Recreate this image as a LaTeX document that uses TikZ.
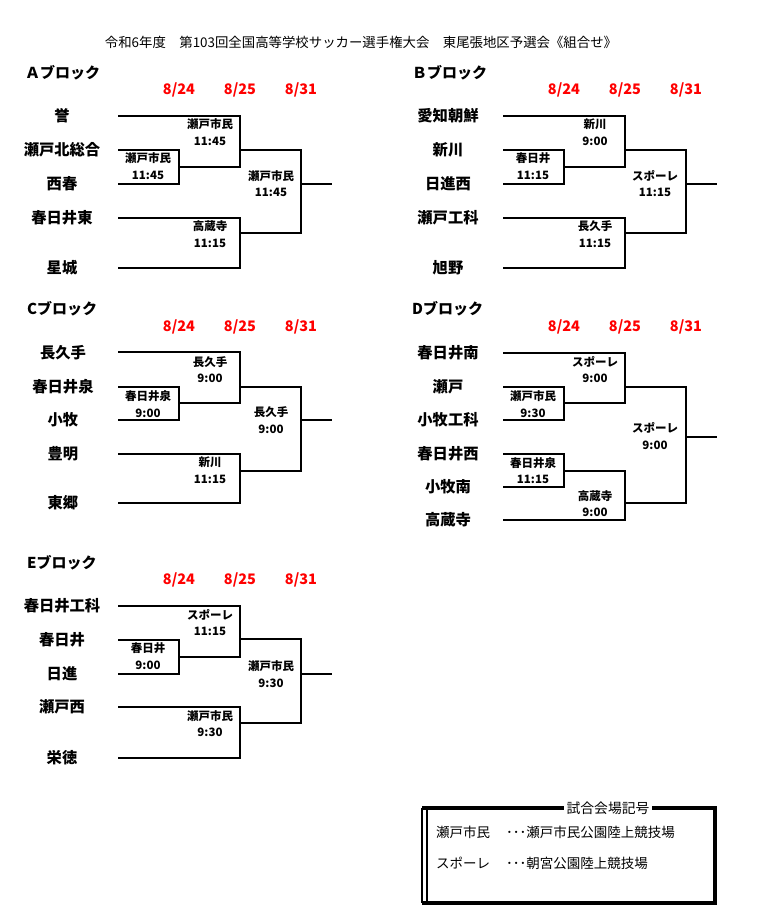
\documentclass[tikz,border=0pt]{standalone}
\usepackage{fontspec}
\setmainfont{Noto Sans CJK JP}
\begin{document}
\begin{tikzpicture}[x=1pt,y=-1pt,
	linie/.style={line width=1.8pt},
	team/.style={font=\bfseries\fontsize{15.3}{17}\selectfont,inner sep=0pt},
	datum/.style={text=red,font=\bfseries\fontsize{14.5}{17}\selectfont,inner sep=0pt},
	spiel/.style={align=center,font=\bfseries\fontsize{11.5}{16.5}\selectfont,inner sep=0pt},
	kopf/.style={anchor=west,font=\bfseries\fontsize{15}{17}\selectfont,inner sep=0pt},
	legende/.style={anchor=west,font=\fontsize{13.5}{16}\selectfont,inner sep=0pt}]
	\useasboundingbox (0,0) rectangle (757,911);

	% Titel
	\node[font=\fontsize{13.4}{16}\selectfont] (titel) at (361,42) {令和6年度　第103回全国高等学校サッカー選手権大会　東尾張地区予選会《組合せ》};

	% A-Block
	\node[kopf] (kopfA) at (25,73) {Ａブロック};
	\node[datum] (datA1) at (179,90) {8/24};
	\node[datum] (datA2) at (240,90) {8/25};
	\node[datum] (datA3) at (301,90) {8/31};
	\node[team] (a1) at (62,116) {誉};
	\node[team] (a2) at (62,150) {瀬戸北総合};
	\node[team] (a3) at (62,184) {西春};
	\node[team] (a4) at (62,218) {春日井東};
	\node[team] (a5) at (62,268) {星城};
	\draw[linie] (118,116) -| (240,167) -- (179,167); % obere Paarung
	\draw[linie] (118,150) -| (179,184) -- (118,184); % 1. Runde
	\draw[linie] (240,150) -| (301,233) -- (240,233); % Finale
	\draw[linie] (118,218) -| (240,268) -- (118,268); % untere Paarung
	\draw[linie] (301,184) -- (332,184);
	\node[spiel] (spA1) at (148,166) {瀬戸市民\\11:45};
	\node[spiel] (spA2) at (210,132) {瀬戸市民\\11:45};
	\node[spiel] (spA3) at (271,183.5) {瀬戸市民\\11:45};
	\node[spiel] (spA4) at (210,234) {高蔵寺\\11:15};

	% B-Block
	\begin{scope}[shift={(385,0)}]
		\node[kopf] (kopfB) at (27,73) {Ｂブロック};
		\node[datum] (datB1) at (179,90) {8/24};
		\node[datum] (datB2) at (240,90) {8/25};
		\node[datum] (datB3) at (301,90) {8/31};
		\node[team] (b1) at (63,116) {愛知朝鮮};
		\node[team] (b2) at (63,150) {新川};
		\node[team] (b3) at (63,184) {日進西};
		\node[team] (b4) at (63,218) {瀬戸工科};
		\node[team] (b5) at (63,268) {旭野};
		\draw[linie] (118,116) -| (240,167) -- (179,167);
		\draw[linie] (118,150) -| (179,184) -- (118,184);
		\draw[linie] (240,150) -| (301,233) -- (240,233);
		\draw[linie] (118,218) -| (240,268) -- (118,268);
		\draw[linie] (301,184) -- (332,184);
		\node[spiel] (spB1) at (148,166) {春日井\\11:15};
		\node[spiel] (spB2) at (210,132) {新川\\9:00};
		\node[spiel] (spB3) at (270,183.5) {スポーレ\\11:15};
		\node[spiel] (spB4) at (210,234) {長久手\\11:15};
	\end{scope}

	% C-Block
	\begin{scope}[shift={(0,236)}]
		\node[kopf] (kopfC) at (27,73) {Cブロック};
		\node[datum] (datC1) at (179,91) {8/24};
		\node[datum] (datC2) at (240,91) {8/25};
		\node[datum] (datC3) at (301,91) {8/31};
		\node[team] (c1) at (63,117) {長久手};
		\node[team] (c2) at (63,151) {春日井泉};
		\node[team] (c3) at (63,184) {小牧};
		\node[team] (c4) at (63,218) {豊明};
		\node[team] (c5) at (63,267) {東郷};
		\draw[linie] (118,116) -| (240,167) -- (179,167);
		\draw[linie] (118,151) -| (179,184) -- (118,184);
		\draw[linie] (240,151) -| (301,235) -- (240,235);
		\draw[linie] (118,218) -| (240,267) -- (118,267);
		\draw[linie] (301,184) -- (332,184);
		\node[spiel] (spC1) at (148,168) {春日井泉\\9:00};
		\node[spiel] (spC2) at (210,133.5) {長久手\\9:00};
		\node[spiel] (spC3) at (271,184) {長久手\\9:00};
		\node[spiel] (spC4) at (210,234) {新川\\11:15};
	\end{scope}

	% D-Block
	\begin{scope}[shift={(385,236)}]
		\node[kopf] (kopfD) at (27,73) {Dブロック};
		\node[datum] (datD1) at (179,91) {8/24};
		\node[datum] (datD2) at (240,91) {8/25};
		\node[datum] (datD3) at (301,91) {8/31};
		\node[team] (d1) at (63,117) {春日井南};
		\node[team] (d2) at (63,151) {瀬戸};
		\node[team] (d3) at (63,184) {小牧工科};
		\node[team] (d4) at (63,218) {春日井西};
		\node[team] (d5) at (63,251) {小牧南};
		\node[team] (d6) at (63,284) {高蔵寺};
		\draw[linie] (118,117) -| (240,167) -- (179,167);
		\draw[linie] (118,151) -| (179,184) -- (118,184);
		\draw[linie] (118,218) -| (179,251) -- (118,251);
		\draw[linie] (179,235) -| (240,284) -- (118,284);
		\draw[linie] (240,151) -| (301,267) -- (240,267);
		\draw[linie] (301,201) -- (332,201);
		\node[spiel] (spD1) at (148,168) {瀬戸市民\\9:30};
		\node[spiel] (spD2) at (210,133.5) {スポーレ\\9:00};
		\node[spiel] (spD3) at (270,200) {スポーレ\\9:00};
		\node[spiel] (spD4) at (148,234.5) {春日井泉\\11:15};
		\node[spiel] (spD5) at (210,267.5) {高蔵寺\\9:00};
	\end{scope}

	% E-Block
	\begin{scope}[shift={(0,490)}]
		\node[kopf] (kopfE) at (27,73) {Eブロック};
		\node[datum] (datE1) at (179,90) {8/24};
		\node[datum] (datE2) at (240,90) {8/25};
		\node[datum] (datE3) at (301,90) {8/31};
		\node[team] (e1) at (62,116) {春日井工科};
		\node[team] (e2) at (62,150) {春日井};
		\node[team] (e3) at (62,184) {日進};
		\node[team] (e4) at (62,217) {瀬戸西};
		\node[team] (e5) at (62,268) {栄徳};
		\draw[linie] (118,116) -| (240,167) -- (179,167);
		\draw[linie] (118,150) -| (179,184) -- (118,184);
		\draw[linie] (240,149) -| (301,233) -- (240,233);
		\draw[linie] (118,217) -| (240,268) -- (118,268);
		\draw[linie] (301,184) -- (332,184);
		\node[spiel] (spE1) at (148,166) {春日井\\9:00};
		\node[spiel] (spE2) at (210,132.5) {スポーレ\\11:15};
		\node[spiel] (spE3) at (271,184) {瀬戸市民\\9:30};
		\node[spiel] (spE4) at (210,233.5) {瀬戸市民\\9:30};
	\end{scope}

	% Legende
	\draw[line width=3.2pt] (422,808) -- (715,808) -- (715,903) -- (422,903);
	\draw[line width=1.3pt] (422,808) -- (422,903);
	\draw[line width=2pt] (427,808) -- (427,903);
	\node[fill=white,inner xsep=3pt,inner ysep=1pt,font=\fontsize{13.8}{16}\selectfont] (legtitel) at (608,808) {試合会場記号};
	\node[legende] (leg1) at (436,832) {瀬戸市民};
	\node[legende] (leg1b) at (506,832) {･･･瀬戸市民公園陸上競技場};
	\node[legende] (leg2) at (436,863) {スポーレ};
	\node[legende] (leg2b) at (506,863) {･･･朝宮公園陸上競技場};
\end{tikzpicture}
\end{document}
